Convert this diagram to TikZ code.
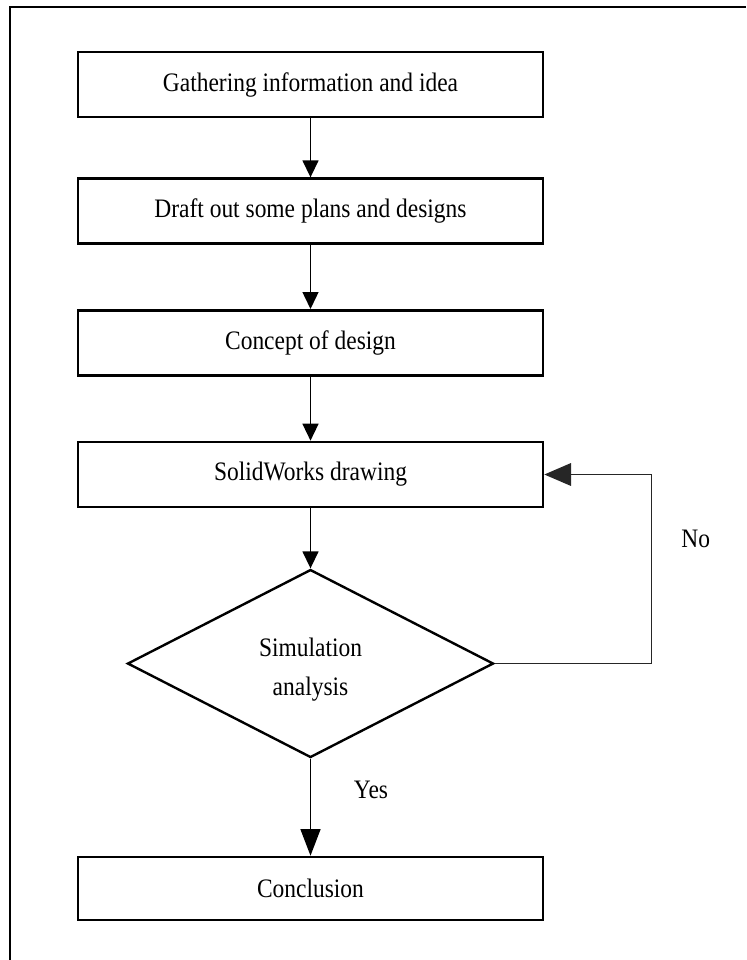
\documentclass[tikz,border=0pt]{standalone}
\usepackage{fontspec}
\setmainfont{Liberation Serif}[FakeStretch=0.88]
\usetikzlibrary{arrows.meta, positioning, shapes.geometric}

\begin{document}
\begin{tikzpicture}[
    font=\fontsize{20}{24}\selectfont,
    stage/.style={draw, line width=2pt, minimum width=348.75pt, minimum height=48.75pt, inner sep=0pt, align=center},
    test/.style={draw, diamond, line width=1.8pt, minimum width=274.5pt, minimum height=141pt, inner sep=0pt, align=center},
    flow/.style={-{Triangle[length=12.75pt, width=12pt]}, line width=1.1pt},
    bigflow/.style={-{Triangle[length=20pt, width=15pt]}, line width=1.1pt},
    back/.style={-{Triangle[length=20pt, width=17pt]}, line width=0.9pt, draw=black!85},
    lab/.style={inner sep=0pt},
  ]
  \useasboundingbox (0,0) rectangle (559.5pt,-720pt);
  % ---- frame (only top and left edges show)
  \draw[line width=2.2pt] (7.5pt,-720pt) |- (559.5pt,-5.25pt);
  % ---- steps
  \node[stage] (gather) at (232.875pt,-63.375pt) {Gathering information and idea};
  \node[stage, below=44.25pt of gather] (draft) {Draft out some plans and designs};
  \node[stage, below=48pt of draft] (concept) {Concept of design};
  \node[stage, below=48pt of concept] (cad) {SolidWorks drawing};
  \node[test, below=45pt of cad] (sim) {\rule{0pt}{23pt}Simulation\\[5pt] analysis};
  \node[stage, below=72.75pt of sim, minimum height=47.25pt] (concl) {Conclusion};
  % ---- arrows
  \draw[flow] (gather) -- (draft);
  \draw[flow] (draft) -- (concept);
  \draw[flow] (concept) -- (cad);
  \draw[flow] (cad) -- (sim);
  \draw[bigflow] (sim) -- (concl) node[pos=0.32, right=32pt, lab] {Yes};
  \draw[back] (sim.east) -- ++(117.75pt,0) |- (cad.east) node[pos=0.33, right=21.75pt, lab] {No};
\end{tikzpicture}
\end{document}
